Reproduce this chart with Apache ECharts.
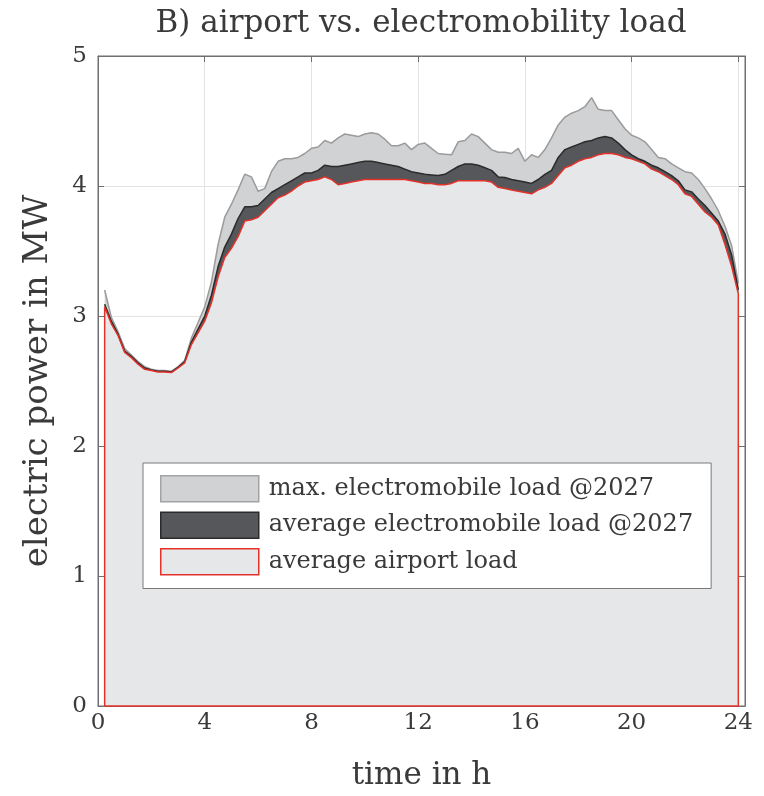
<!DOCTYPE html>
<html>
<head>
<meta charset="utf-8">
<script src="https://cdn.jsdelivr.net/npm/echarts@6/dist/echarts.min.js"></script>
<style>
  html, body { margin: 0; padding: 0; background: #fff; }
  #chart { width: 764px; height: 796px; }
</style>
</head>
<body>
<div id="chart"></div>
<script>
// Time of day in hours (15-minute resolution)
const timeH = [
  0.25, 0.5, 0.75, 1, 1.25, 1.5, 1.75, 2, 2.25, 2.5, 2.75, 3,
  3.25, 3.5, 3.75, 4, 4.25, 4.5, 4.75, 5, 5.25, 5.5, 5.75, 6,
  6.25, 6.5, 6.75, 7, 7.25, 7.5, 7.75, 8, 8.25, 8.5, 8.75, 9,
  9.25, 9.5, 9.75, 10, 10.25, 10.5, 10.75, 11, 11.25, 11.5, 11.75, 12,
  12.25, 12.5, 12.75, 13, 13.25, 13.5, 13.75, 14, 14.25, 14.5, 14.75, 15,
  15.25, 15.5, 15.75, 16, 16.25, 16.5, 16.75, 17, 17.25, 17.5, 17.75, 18,
  18.25, 18.5, 18.75, 19, 19.25, 19.5, 19.75, 20, 20.25, 20.5, 20.75, 21,
  21.25, 21.5, 21.75, 22, 22.25, 22.5, 22.75, 23, 23.25, 23.5, 23.75, 24
];

// Average airport load in MW
const airportLoad = [
  3.07, 2.94, 2.85, 2.72, 2.68, 2.63, 2.59, 2.58, 2.57, 2.57, 2.565, 2.60,
  2.64, 2.78, 2.87, 2.96, 3.10, 3.30, 3.45, 3.52, 3.61, 3.73, 3.74, 3.76,
  3.81, 3.86, 3.91, 3.93, 3.96, 4.00, 4.03, 4.04, 4.05, 4.07, 4.05, 4.01,
  4.02, 4.03, 4.04, 4.05, 4.05, 4.05, 4.05, 4.05, 4.05, 4.05, 4.04, 4.03,
  4.02, 4.02, 4.01, 4.01, 4.02, 4.04, 4.04, 4.04, 4.04, 4.04, 4.03, 3.99,
  3.98, 3.97, 3.96, 3.95, 3.94, 3.97, 3.99, 4.02, 4.08, 4.14, 4.16, 4.19,
  4.21, 4.22, 4.24, 4.25, 4.25, 4.24, 4.22, 4.21, 4.19, 4.17, 4.13, 4.11,
  4.08, 4.05, 4.01, 3.94, 3.92, 3.86, 3.80, 3.76, 3.70, 3.55, 3.38, 3.17
];

// Airport load plus average electromobile load @2027 in MW
const withAvgEv = [
  3.09, 2.96, 2.86, 2.73, 2.69, 2.64, 2.60, 2.585, 2.575, 2.575, 2.57, 2.605,
  2.65, 2.80, 2.90, 3.00, 3.16, 3.38, 3.53, 3.63, 3.75, 3.84, 3.84, 3.85,
  3.90, 3.95, 3.98, 4.01, 4.04, 4.07, 4.10, 4.10, 4.12, 4.16, 4.15, 4.15,
  4.16, 4.17, 4.18, 4.19, 4.19, 4.18, 4.17, 4.16, 4.15, 4.13, 4.11, 4.10,
  4.09, 4.085, 4.08, 4.09, 4.12, 4.15, 4.17, 4.17, 4.16, 4.14, 4.12, 4.07,
  4.065, 4.05, 4.04, 4.03, 4.02, 4.05, 4.09, 4.12, 4.22, 4.28, 4.30, 4.32,
  4.34, 4.35, 4.37, 4.38, 4.37, 4.33, 4.28, 4.24, 4.21, 4.19, 4.16, 4.14,
  4.11, 4.08, 4.04, 3.97, 3.955, 3.90, 3.85, 3.79, 3.73, 3.63, 3.47, 3.20
];

// Airport load plus maximum electromobile load @2027 in MW
const withMaxEv = [
  3.20, 2.99, 2.88, 2.75, 2.70, 2.65, 2.61, 2.59, 2.58, 2.58, 2.575, 2.61,
  2.66, 2.83, 2.95, 3.07, 3.26, 3.55, 3.76, 3.86, 3.97, 4.09, 4.07, 3.96,
  3.98, 4.11, 4.19, 4.21, 4.21, 4.22, 4.25, 4.29, 4.30, 4.35, 4.33, 4.37,
  4.40, 4.39, 4.38, 4.40, 4.41, 4.40, 4.36, 4.31, 4.31, 4.33, 4.28, 4.32,
  4.33, 4.29, 4.25, 4.245, 4.24, 4.34, 4.35, 4.40, 4.38, 4.33, 4.28, 4.26,
  4.26, 4.25, 4.29, 4.19, 4.24, 4.22, 4.28, 4.37, 4.47, 4.53, 4.56, 4.58,
  4.61, 4.68, 4.59, 4.58, 4.58, 4.51, 4.44, 4.39, 4.37, 4.34, 4.28, 4.22,
  4.21, 4.17, 4.14, 4.11, 4.10, 4.05, 3.98, 3.90, 3.81, 3.69, 3.54, 3.25
];

const xTickLabels = [0, 4, 8, 12, 16, 20, 24];
const yTickLabels = [0, 1, 2, 3, 4, 5];
const seriesNames = [
  'max. electromobile load @2027',
  'average electromobile load @2027',
  'average airport load'
];

const fontFamily = "'DejaVu Serif', serif";
const frameColor = '#6f6f6f';
const textColor = '#3a3a3a';
const gridColor = '#e3e3e3';

const pairs = values => timeH.map((t, i) => [t, values[i]]);

// The airport load is drawn as a closed outline down to zero
const first = timeH[0];
const last = timeH[timeH.length - 1];
const airportOutline = [[first, 0]].concat(pairs(airportLoad), [[last, 0], [first, 0]]);

function xAxisBase(pos) {
  return {
    type: 'value', position: pos, min: 0, max: 24.25, interval: 4,
    axisLine: { show: true, onZero: false, lineStyle: { color: frameColor, width: 1 } },
    axisTick: { show: true, inside: true, length: 6, lineStyle: { color: frameColor } }
  };
}
function yAxisBase(pos) {
  return {
    type: 'value', position: pos, min: 0, max: 5, interval: 1,
    axisLine: { show: true, onZero: false, lineStyle: { color: frameColor, width: 1 } },
    axisTick: { show: true, inside: true, length: 6, lineStyle: { color: frameColor } }
  };
}

const chart = echarts.init(document.getElementById('chart'), null, { renderer: 'canvas' });

chart.setOption({
  animation: false,
  backgroundColor: '#ffffff',
  title: {
    text: 'B) airport vs. electromobility load',
    left: 421, top: 8, textAlign: 'center', padding: 0,
    textStyle: { fontFamily, fontSize: 31, fontWeight: 'normal', color: textColor }
  },
  grid: {
    left: 98, right: 19, top: 56, bottom: 88,
    show: true, borderColor: frameColor, borderWidth: 1, backgroundColor: '#ffffff'
  },
  legend: {
    left: 143, top: 463, orient: 'vertical',
    itemWidth: 98, itemHeight: 26, itemGap: 9,
    padding: [12, 18, 13, 17],
    backgroundColor: '#ffffff', borderColor: '#7a7a7a', borderWidth: 1,
    icon: 'rect', selectedMode: false,
    textStyle: { fontFamily, fontSize: 24, color: textColor, padding: [0, 0, 0, 5] },
    data: [
      { name: seriesNames[0], itemStyle: { color: '#d1d2d4', borderColor: '#a3a3a3', borderWidth: 1.5 } },
      { name: seriesNames[1], itemStyle: { color: '#56575a', borderColor: '#2b2b2b', borderWidth: 1.5 } },
      { name: seriesNames[2], itemStyle: { color: '#e6e7e9', borderColor: '#e4322b', borderWidth: 1.5 } }
    ]
  },
  xAxis: [
    Object.assign(xAxisBase('bottom'), {
      name: 'time in h', nameLocation: 'middle', nameGap: 54,
      nameTextStyle: { fontFamily, fontSize: 31, color: textColor },
      axisLabel: {
        margin: 6, fontFamily, fontSize: 23, color: textColor,
        formatter: v => (xTickLabels.includes(v) ? String(v) : '')
      },
      splitLine: { show: true, lineStyle: { color: gridColor, width: 1 } }
    }),
    Object.assign(xAxisBase('top'), {
      axisLabel: { show: false }, splitLine: { show: false }
    })
  ],
  yAxis: [
    Object.assign(yAxisBase('left'), {
      name: 'electric power in MW', nameLocation: 'middle', nameGap: 43, nameRotate: 90,
      nameTextStyle: { fontFamily, fontSize: 34, color: textColor },
      axisLabel: {
        margin: 11, fontFamily, fontSize: 23, color: textColor,
        formatter: v => (yTickLabels.includes(v) ? String(v) : '')
      },
      splitLine: { show: true, lineStyle: { color: gridColor, width: 1 } }
    }),
    Object.assign(yAxisBase('right'), {
      axisLabel: { show: false }, splitLine: { show: false }
    })
  ],
  series: [
    {
      name: seriesNames[0], type: 'line', xAxisIndex: 0, yAxisIndex: 0,
      data: pairs(withMaxEv), symbol: 'none', silent: true,
      lineStyle: { color: '#9b9b9b', width: 1.5 },
      itemStyle: { color: '#d1d2d4' },
      areaStyle: { color: '#d1d2d4', opacity: 1 }
    },
    {
      name: seriesNames[1], type: 'line', xAxisIndex: 0, yAxisIndex: 0,
      data: pairs(withAvgEv), symbol: 'none', silent: true,
      lineStyle: { color: '#2b2b2b', width: 1.5 },
      itemStyle: { color: '#56575a' },
      areaStyle: { color: '#56575a', opacity: 1 }
    },
    {
      name: seriesNames[2], type: 'line', xAxisIndex: 0, yAxisIndex: 0,
      data: airportOutline, symbol: 'none', silent: true, clip: false,
      lineStyle: { color: '#e4322b', width: 1.5 },
      itemStyle: { color: '#e6e7e9' },
      areaStyle: { color: '#e6e7e9', opacity: 1 }
    }
  ]
});
</script>
</body>
</html>
